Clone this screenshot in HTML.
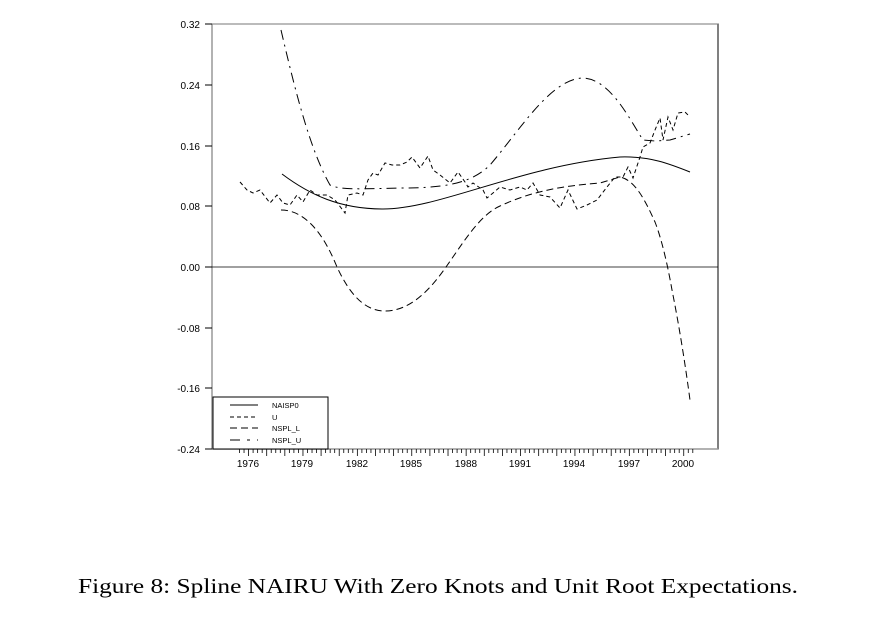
<!DOCTYPE html>
<html><head><style>
body{margin:0;background:#fff;width:894px;height:618px;overflow:hidden}
svg{position:absolute;left:0;top:0}
</style></head><body>
<svg width="894" height="618" xmlns="http://www.w3.org/2000/svg" font-family="Liberation Sans, Arial, sans-serif">
<rect x="212" y="24" width="506" height="425" fill="none" stroke="#000" stroke-width="1"/>
<line x1="212" y1="24" x2="212" y2="449" stroke="#999" stroke-width="1.5"/>
<line x1="212" y1="449" x2="718" y2="449" stroke="#999" stroke-width="1.5"/>
<line x1="212" y1="24" x2="718" y2="24" stroke="#777" stroke-width="1"/>
<line x1="212" y1="267" x2="718" y2="267" stroke="#000" stroke-width="0.8"/>
<g stroke="#000" stroke-width="1">
<line x1="205" y1="24" x2="212" y2="24"/><line x1="205" y1="85" x2="212" y2="85"/><line x1="205" y1="146" x2="212" y2="146"/><line x1="205" y1="206" x2="212" y2="206"/><line x1="205" y1="267" x2="212" y2="267"/><line x1="205" y1="328" x2="212" y2="328"/><line x1="205" y1="388" x2="212" y2="388"/><line x1="205" y1="449" x2="212" y2="449"/>
</g>
<g font-size="10" text-anchor="end" fill="#000">
<text x="200" y="28">0.32</text><text x="200" y="89">0.24</text><text x="200" y="150">0.16</text><text x="200" y="210">0.08</text><text x="200" y="271">0.00</text><text x="200" y="332">-0.08</text><text x="200" y="392">-0.16</text><text x="200" y="453">-0.24</text>
</g>
<g id="ticks" stroke="#000" stroke-width="0.8"></g>
<g font-size="10" text-anchor="middle" fill="#000">
<text x="248" y="467">1976</text><text x="302" y="467">1979</text><text x="357" y="467">1982</text><text x="411" y="467">1985</text><text x="466" y="467">1988</text><text x="520" y="467">1991</text><text x="574" y="467">1994</text><text x="629" y="467">1997</text><text x="683" y="467">2000</text>
</g>
<g fill="none" stroke="#000" stroke-width="1">
<path d="M282,174 C310,195 340,209 383,209 C440,209 520,166 620,157 C650,156 670,164 690,172"/>
<path stroke-dasharray="10,5,2,5" d="M281,30 C295,90 310,150 330,185 C340,190 360,189 400,188 C440,188 470,185 490,165 C520,130 550,80 582,78 C610,78 630,120 643,140 L655,141 L670,140 L690,134"/>
<path stroke-dasharray="7,4" d="M281,210 C300,210 320,225 337,267 C350,295 365,311 385,311 C410,311 430,290 446,267 C465,240 480,215 500,206 C530,192 560,186 600,183 L620,177 C635,180 645,200 655,222 C662,240 668,267 672,290 C680,330 686,370 690,400"/>
<polyline stroke-dasharray="4,3" points="240,182 247,190 253,193 260,190 270,203 277,195 283,203 290,205 297,195 303,202 310,190 317,195 327,195 335,200 345,213 348,195 357,193 363,195 368,180 373,173 378,175 385,163 392,165 400,165 407,162 412,157 420,168 428,156 433,170 440,175 450,183 458,172 465,182 468,187 473,183 483,190 487,198 493,193 500,187 510,190 520,187 527,190 533,183 540,195 550,197 560,208 568,190 577,209 587,205 597,200 607,187 615,177 623,177 628,167 633,178 640,157 643,147 650,143 655,130 660,118 663,140 668,117 673,130 678,113 685,112 690,117"/>
</g>
<rect x="213" y="397" width="115" height="52" fill="#fff" stroke="#000" stroke-width="1"/>
<g stroke="#000" stroke-width="1">
<line x1="230" y1="405" x2="258" y2="405"/>
<line x1="230" y1="417" x2="258" y2="417" stroke-dasharray="4,3"/>
<line x1="230" y1="428" x2="258" y2="428" stroke-dasharray="7,4"/>
<line x1="230" y1="440" x2="258" y2="440" stroke-dasharray="10,7,3,7"/>
</g>
<g font-size="7.5" fill="#000">
<text x="272" y="408">NAISP0</text><text x="272" y="420">U</text><text x="272" y="431">NSPL_L</text><text x="272" y="443">NSPL_U</text>
</g>
<text x="78" y="593" font-family="Liberation Serif, serif" font-size="21" textLength="720" lengthAdjust="spacingAndGlyphs">Figure 8: Spline NAIRU With Zero Knots and Unit Root Expectations.</text>
</svg>
<script>
var g=document.getElementById('ticks'),s='';
for(var i=0;i<=100;i++){var x=239.5+i*4.533;if(x>693)break;var h=(i%4==2)?7:4;s+='<line x1="'+x+'" y1="449" x2="'+x+'" y2="'+(449+h)+'"/>';}
g.innerHTML=s;
</script>
</body></html>
